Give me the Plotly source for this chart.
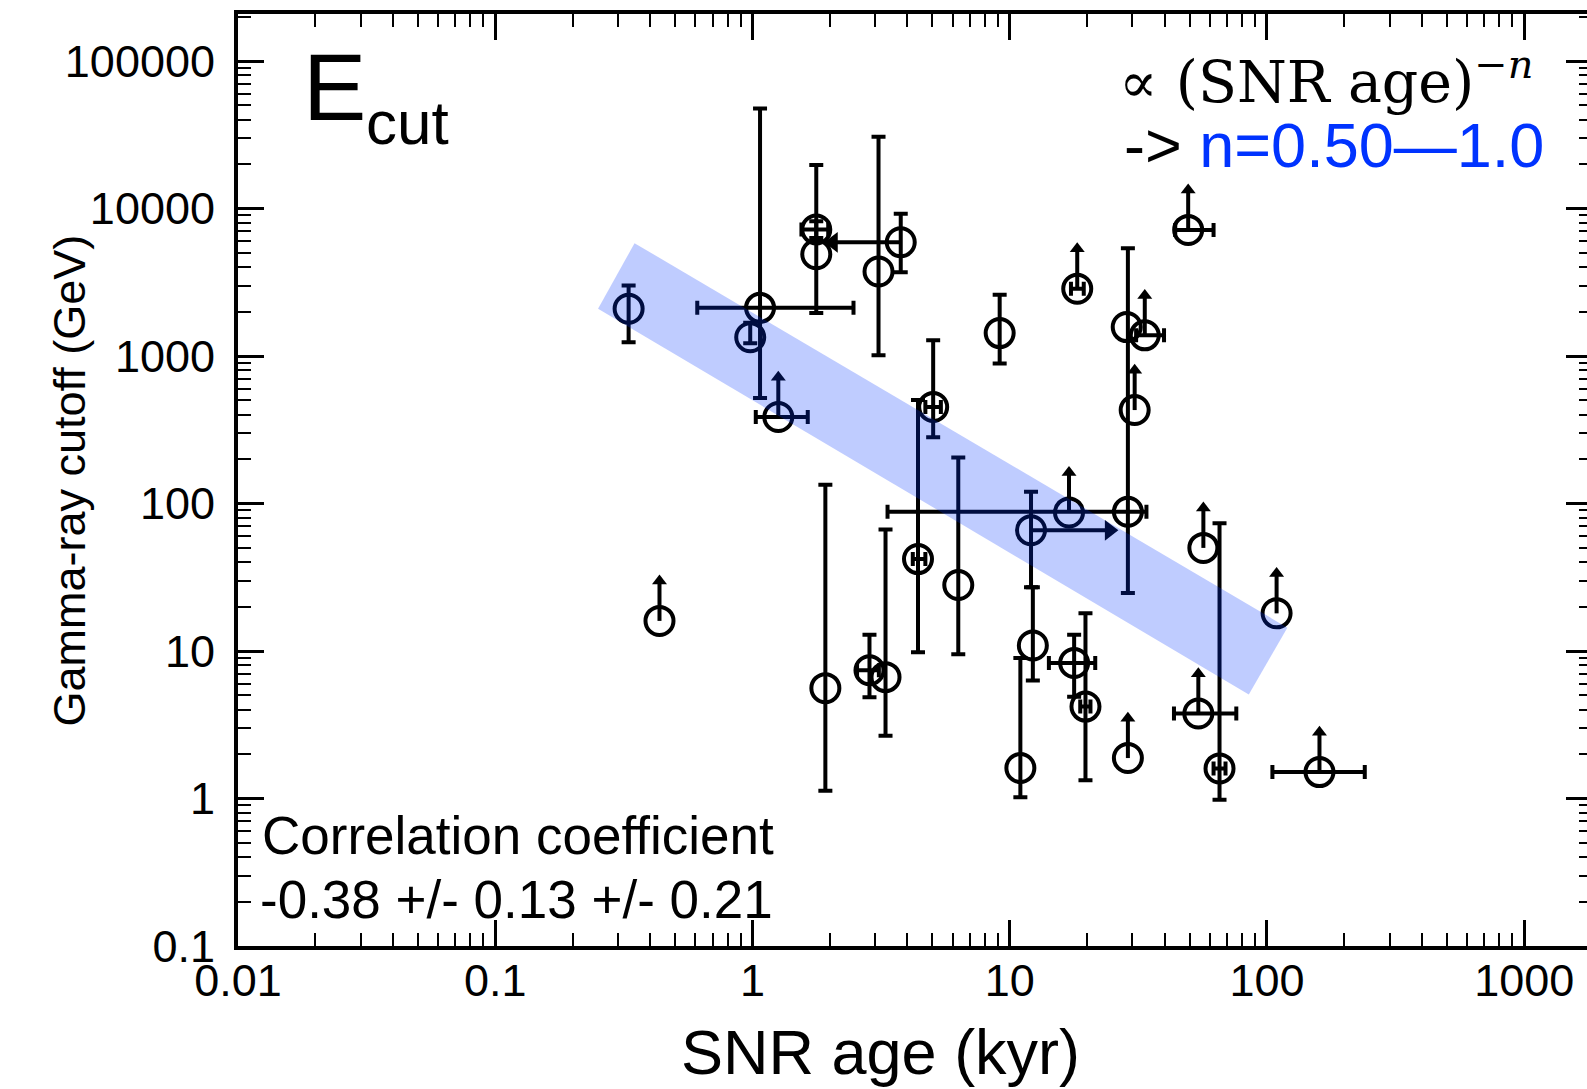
import math
import plotly.graph_objects as go

# ---------------- data ----------------
age = [0.33, 0.435, 0.98, 1.07, 1.26, 1.77, 1.77, 3.09, 3.77, 1.92, 2.85, 3.29, 4.40, 5.04,
       6.31, 9.14, 11.0, 12.1, 12.3, 17.0, 17.8, 18.3, 19.7, 28.5, 28.8, 28.8, 30.6, 33.5,
       49.4, 54.1, 56.6, 65.4, 109, 160]
ecut = [2090, 16, 1340, 2120, 386, 7200, 4900, 3740, 5900, 5.6, 7.4, 6.65, 42, 451,
        28, 1430, 1.61, 65.8, 10.9, 87, 8.3, 2860, 4.2, 1570, 88, 1.88, 430, 1380,
        7160, 3.77, 50, 1.6, 18, 1.51]
age_lo = [None, None, None, 0.61, 1.03, 1.55, None, None, None, None, 2.55, None, 4.2, 4.7,
          None, None, None, None, None, None, 14.2, 17.3, 18.8, None, 3.35, None, None, 31,
          44, 43.5, None, 62, None, 105]
age_hi = [None, None, None, 2.47, 1.64, 1.97, None, None, None, None, 3.1, None, 4.7, 5.4,
          None, None, None, None, None, None, 21.5, 19.4, 20.6, None, 34, None, None, 39.8,
          62, 76, None, 69, None, 240]
ecut_lo = [1240, None, 1220, 520, None, 6300, 1960, 1010, 3690, 1.13, 4.86, 2.66, 9.8, 281,
           9.5, 890, 1.02, 27, 6.3, None, 4.9, None, 1.33, None, 24.7, None, None, None,
           None, None, None, 0.98, None, None]
ecut_hi = [3000, None, 1680, 47600, None, 8200, 19700, 30600, 9200, 134, 12.9, 66.7, 503, 1280,
           205, 2600, 8.97, 120, 27, None, 12.9, None, 18, None, 5380, None, None, None,
           None, None, None, 73.5, None, None]
# limit type: 'up' = lower limit on cutoff, 'left' = upper limit on age, 'right' = lower limit on age
limit = ['', 'up', '', '', 'up', '', '', '', 'left', '', '', '', '', '',
         '', '', '', 'right', '', 'up', '', 'up', '', '', '', 'up', 'up', 'up',
         'up', 'up', 'up', '', 'up', 'up']
age_arrow_end = [None] * 8 + [2.06] + [None] * 8 + [24.4] + [None] * 16

# fitted power-law band, n = 0.50 - 1.0 (corners)
band_age = [0.251, 0.348, 120, 85, 0.251]
band_ecut = [2090, 5820, 14.4, 5.08, 2090]

x_ticks = [0.01, 0.1, 1, 10, 100, 1000]
x_ticktext = ["0.01", "0.1", "1", "10", "100", "1000"]
y_ticks = [0.1, 1, 10, 100, 1000, 10000, 100000]
y_ticktext = ["0.1", "1", "10", "100", "1000", "10000", "100000"]

# ---------------- figure ----------------
W, H = 1596, 1089          # right frame edge lies just beyond the visible window
L, R, T, B = 238, 0, 14, 143
FONT = "Liberation Sans, Arial, Helvetica, sans-serif"

fig = go.Figure()

# y error bars
iy = [i for i in range(len(age)) if ecut_lo[i] is not None]
fig.add_trace(go.Scatter(
    x=[age[i] for i in iy], y=[ecut[i] for i in iy], mode="markers",
    marker=dict(size=1, color="rgba(0,0,0,0)"),
    error_y=dict(type="data", symmetric=False,
                 array=[ecut_hi[i] - ecut[i] for i in iy],
                 arrayminus=[ecut[i] - ecut_lo[i] for i in iy],
                 color="black", thickness=4, width=7),
    showlegend=False, hoverinfo="skip"))

# x error bars
ix = [i for i in range(len(age)) if age_lo[i] is not None]
fig.add_trace(go.Scatter(
    x=[age[i] for i in ix], y=[ecut[i] for i in ix], mode="markers",
    marker=dict(size=1, color="rgba(0,0,0,0)"),
    error_x=dict(type="data", symmetric=False,
                 array=[age_hi[i] - age[i] for i in ix],
                 arrayminus=[age[i] - age_lo[i] for i in ix],
                 color="black", thickness=4, width=7),
    showlegend=False, hoverinfo="skip"))

# limit arrows
up_len = 10 ** 0.27
lx, ly, hx, hy = [], [], [], []
hlx, hly, hls = [], [], []
for i, lim in enumerate(limit):
    if lim == "up":
        lx += [age[i], age[i], None]
        ly += [ecut[i], ecut[i] * up_len, None]
        hx.append(age[i]); hy.append(ecut[i] * up_len)
    elif lim in ("left", "right"):
        lx += [age[i], age_arrow_end[i], None]
        ly += [ecut[i], ecut[i], None]
        hlx.append(age_arrow_end[i]); hly.append(ecut[i])
        hls.append("triangle-left" if lim == "left" else "triangle-right")
fig.add_trace(go.Scatter(x=lx, y=ly, mode="lines", line=dict(color="black", width=4),
                         showlegend=False, hoverinfo="skip"))
fig.add_trace(go.Scatter(x=hx, y=hy, mode="markers",
                         marker=dict(symbol="triangle-up", size=13, color="black",
                                     line=dict(width=0)),
                         showlegend=False, hoverinfo="skip"))
fig.add_trace(go.Scatter(x=hlx, y=hly, mode="markers",
                         marker=dict(symbol=hls, size=18, color="black", line=dict(width=0)),
                         showlegend=False, hoverinfo="skip"))

# data points
fig.add_trace(go.Scatter(
    x=age, y=ecut, mode="markers",
    marker=dict(symbol="circle-open", size=28, color="black", line=dict(width=4, color="black")),
    showlegend=False))

# band (drawn above the points, translucent)
fig.add_trace(go.Scatter(x=band_age, y=band_ecut, mode="lines", fill="toself",
                         fillcolor="rgba(0,51,255,0.25)", line=dict(width=0),
                         showlegend=False, hoverinfo="skip"))

pw, ph = W - L - R, H - T - B


def px(xp):
    return (xp - L) / pw


def py(yp):
    return (H - B - yp) / ph


def label(xp, yp, text, size, xanchor="left", family=FONT, **kw):
    return dict(x=px(xp), y=py(yp), xref="paper", yref="paper", xanchor=xanchor,
                yanchor="middle", text=text, showarrow=False,
                font=dict(family=family, size=size, color="black"), **kw)


ann = [
    label(301, 87, "E", 95),
    label(364, 122, "cut", 62),
    label(1120, 78, "∝ (SNR age)<sup><i>−n</i></sup>", 57,
          family="DejaVu Serif, Liberation Serif, serif"),
    label(1125, 145, "-> <span style='color:#0033ff'>n=0.50—1.0</span>", 63),
    label(260, 835, "Correlation coefficient", 53),
    label(258, 899, "-0.38 +/- 0.13 +/- 0.21", 53),
    label(882, 1052, "SNR age (kyr)", 63, xanchor="center"),
    label(69, 480, "Gamma-ray cutoff (GeV)", 45, xanchor="center", textangle=-90),
]

axis_common = dict(type="log", showgrid=False, zeroline=False, showline=True, linewidth=4,
                   linecolor="black", mirror="allticks", ticks="inside", ticklen=26,
                   tickwidth=2.5, tickcolor="black", tickmode="array",
                   tickfont=dict(family=FONT, size=45, color="black"),
                   minor=dict(ticks="inside", ticklen=13, tickwidth=2, tickcolor="black",
                              dtick="D1", showgrid=False))

fig.update_layout(
    width=W, height=H, margin=dict(l=L, r=R, t=T, b=B),
    paper_bgcolor="white", plot_bgcolor="white",
    xaxis=dict(range=[-2, -2 + pw / 258.0], tickvals=x_ticks, ticktext=x_ticktext,
               ticklabelstandoff=-8, **axis_common),
    yaxis=dict(range=[-1, -1 + ph / 147.5], tickvals=y_ticks, ticktext=y_ticktext,
               ticklabelstandoff=10, **axis_common),
    annotations=ann,
)

fig.write_html("out.html", config={"displayModeBar": False},
               post_script="document.body.style.margin='0';document.body.style.overflow='hidden';")
